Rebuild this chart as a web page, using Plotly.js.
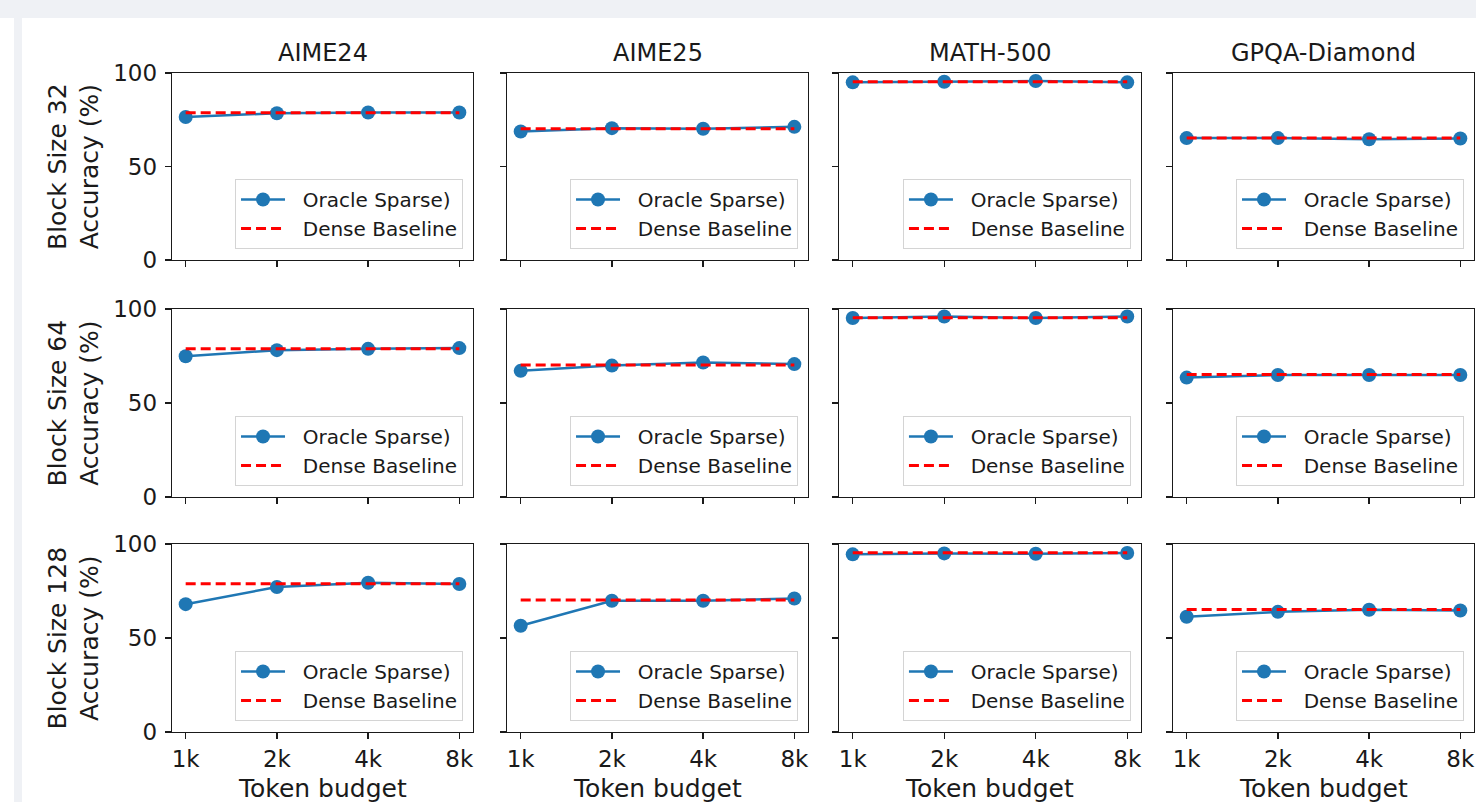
<!DOCTYPE html>
<html>
<head>
<meta charset="utf-8">
<script src="https://cdn.plot.ly/plotly-3.0.1.min.js"></script>
<style>
  html, body { margin: 0; padding: 0; background: #ffffff; width: 1476px; height: 802px; overflow: hidden; }
  #topband { position: absolute; left: 0; top: 0; width: 1476px; height: 18px; background: #eff1f5; }
  #leftband { position: absolute; left: 14px; top: 18px; width: 8px; height: 784px; background: #eff1f5; }
  #chart { position: absolute; left: 22px; top: 18px; width: 1454px; height: 784px; }
</style>
</head>
<body>
<div id="topband"></div>
<div id="leftband"></div>
<div id="chart"></div>
<script>
// ---- data ----
const categories = ['1k', '2k', '4k', '8k'];
const benchmarks = ['AIME24', 'AIME25', 'MATH-500', 'GPQA-Diamond'];
const blockSizes = [32, 64, 128];
const yTicks = [0, 50, 100];
const seriesNames = ['Oracle Sparse)', 'Dense Baseline'];

// Oracle Sparse accuracy (%), one array per benchmark (AIME24, AIME25, MATH-500, GPQA-Diamond)
const oracleBlock32 = [
  [76.5, 78.5, 78.9, 78.9],
  [68.7, 70.5, 70.2, 71.2],
  [95.0, 95.3, 95.7, 95.0],
  [65.2, 65.2, 64.6, 65.0]
];
const oracleBlock64 = [
  [74.9, 78.1, 78.8, 79.2],
  [67.1, 69.9, 71.5, 70.7],
  [95.2, 96.0, 95.2, 96.0],
  [63.5, 64.9, 64.9, 64.9]
];
const oracleBlock128 = [
  [68.0, 77.1, 79.4, 78.7],
  [56.5, 69.8, 69.8, 71.0],
  [94.5, 95.0, 94.8, 95.2],
  [61.3, 63.9, 65.0, 64.6]
];
// Dense baseline accuracy (%) per benchmark
const denseBaseline = [78.8, 70.2, 95.3, 65.2];

// ---- layout geometry ----
const oracleByRow = [oracleBlock32, oracleBlock64, oracleBlock128];
const colDomains = [[0, 0.2312], [0.2573, 0.4885], [0.5123, 0.7442], [0.7688, 1.0]];
const rowDomains = [[0.7162, 1.0], [0.3566, 0.6419], [0, 0.2853]];
const PW = 1302, PH = 659;
const GAP = '\u00a0\u00a0';

const FONT = 'DejaVu Sans, sans-serif';
const INK = '#1a1a1a';
const traces = [];
const layout = {
  width: 1454, height: 784,
  margin: { l: 150, r: 2, t: 55, b: 70, pad: 0 },
  paper_bgcolor: '#ffffff', plot_bgcolor: '#ffffff',
  font: { family: FONT, color: INK, size: 22 },
  showlegend: true,
  annotations: []
};

for (let r = 0; r < 3; r++) {
  for (let c = 0; c < 4; c++) {
    const idx = r * 4 + c + 1;
    const sfx = idx === 1 ? '' : String(idx);
    const legendId = 'legend' + sfx;
    traces.push({
      type: 'scatter', mode: 'lines+markers',
      x: categories, y: oracleByRow[r][c],
      xaxis: 'x' + sfx, yaxis: 'y' + sfx,
      name: GAP + seriesNames[0], legend: legendId,
      line: { color: '#1f77b4', width: 2.5 },
      marker: { color: '#1f77b4', size: 14 },
      hoverinfo: 'skip'
    });
    traces.push({
      type: 'scatter', mode: 'lines',
      x: categories, y: categories.map(() => denseBaseline[c]),
      xaxis: 'x' + sfx, yaxis: 'y' + sfx,
      name: GAP + seriesNames[1], legend: legendId,
      line: { color: '#ff0000', width: 3, dash: '10px,5px' },
      hoverinfo: 'skip'
    });
    layout['xaxis' + sfx] = {
      domain: colDomains[c], anchor: 'y' + sfx,
      type: 'category', range: [-0.15, 3.15],
      showticklabels: r === 2,
      ticks: 'outside', ticklen: 6, tickwidth: 1.25, tickcolor: INK,
      showline: true, mirror: true, linecolor: INK, linewidth: 1.25,
      showgrid: false, zeroline: false, fixedrange: true,
      tickfont: { family: FONT, size: 23, color: INK }
    };
    layout['yaxis' + sfx] = {
      domain: rowDomains[r], anchor: 'x' + sfx,
      range: [0, 100], tickmode: 'array', tickvals: yTicks, ticktext: yTicks.map(String),
      showticklabels: c === 0,
      ticks: 'outside', ticklen: 6, tickwidth: 1.25, tickcolor: INK,
      showline: true, mirror: true, linecolor: INK, linewidth: 1.25,
      showgrid: false, zeroline: false, fixedrange: true,
      ticklabelstandoff: 3,
      tickfont: { family: FONT, size: 23, color: INK }
    };
    layout[legendId] = {
      x: colDomains[c][1] - 10 / PW, y: rowDomains[r][0] + 11 / PH,
      xanchor: 'right', yanchor: 'bottom',
      bgcolor: 'rgba(255,255,255,0.8)', bordercolor: '#d4d4d4', borderwidth: 1,
      font: { family: FONT, size: 20, color: INK },
      itemwidth: 44, tracegroupgap: 0
    };
  }
}

// column titles
benchmarks.forEach((b, c) => {
  const xc = (colDomains[c][0] + colDomains[c][1]) / 2;
  layout.annotations.push({
    text: b, xref: 'paper', yref: 'paper', x: xc, y: 1,
    xanchor: 'center', yanchor: 'bottom', yshift: 4, showarrow: false,
    font: { family: FONT, size: 24, color: INK }
  });
  layout.annotations.push({
    text: 'Token budget', xref: 'paper', yref: 'paper', x: xc, y: 0,
    xanchor: 'center', yanchor: 'top', yshift: -40, showarrow: false,
    font: { family: FONT, size: 25, color: INK }
  });
});
// row labels
blockSizes.forEach((bs, r) => {
  const yc = (rowDomains[r][0] + rowDomains[r][1]) / 2;
  layout.annotations.push({
    text: 'Block Size ' + bs + '<br>Accuracy (%)', xref: 'paper', yref: 'paper',
    x: (73.5 - 172) / PW, y: yc, xanchor: 'center', yanchor: 'middle',
    textangle: -90, showarrow: false,
    font: { family: FONT, size: 25, color: INK }
  });
});

Plotly.newPlot('chart', traces, layout, { displayModeBar: false, staticPlot: true });
</script>
</body>
</html>
